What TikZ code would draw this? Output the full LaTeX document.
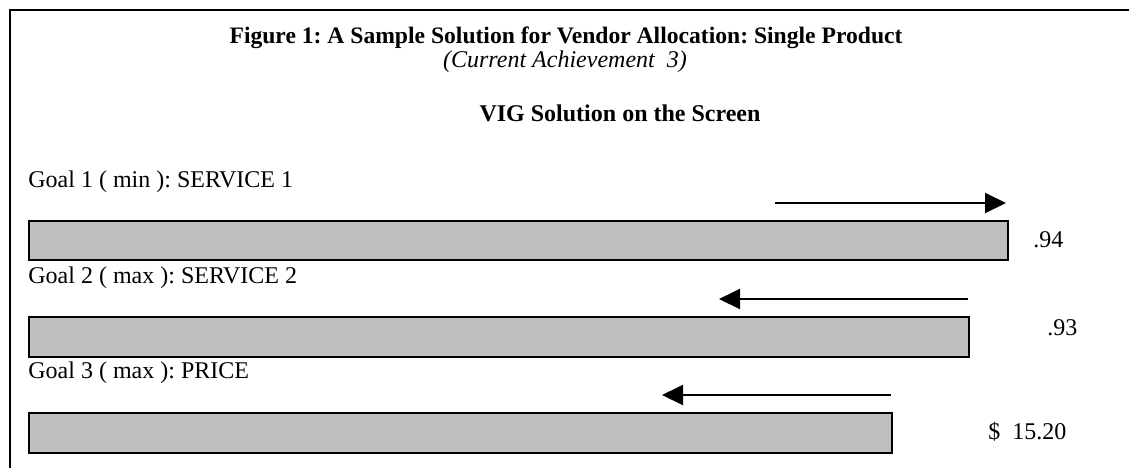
\documentclass[tikz,border=0pt]{standalone}
\usepackage{fontspec}
\setmainfont{Liberation Serif}
\usetikzlibrary{arrows.meta}
\frenchspacing

\tikzset{
    goalbar/.style={draw, line width=1pt, fill=black!25, inner sep=0pt, anchor=north west},
    goaltext/.style={anchor=base west, inner sep=0pt},
    valtext/.style={anchor=west, inner sep=0pt},
    moveto/.style={-{Triangle[length=10.5pt,width=10pt]}, line width=1pt},
}

\begin{document}
\begin{tikzpicture}[x=0.5pt,y=-0.5pt,font=\fontsize{12}{14.4}\selectfont]
    \useasboundingbox(0,0)rectangle(1129,468);
    % open frame
    \draw[line width=1.2pt](1129,10)--(10,10)--(10,468);

    \node[font=\fontsize{11.8}{14}\selectfont\bfseries](title)at(566,38){Figure 1: A Sample Solution for Vendor Allocation: Single Product};
    \node[font=\fontsize{12}{14}\selectfont\itshape](sub)at(565,62){(Current Achievement\ \ 3)};
    \node[font=\fontsize{12}{14}\selectfont\bfseries](screen)at(620,113){VIG Solution on the Screen};

    % goal 1
    \node[goaltext](g1)at(28,187){Goal 1 ( min ): SERVICE 1};
    \coordinate(a1s)at(775,203);
    \coordinate(a1e)at(1006,203);
    \draw[moveto](a1s)--(a1e);
    \node[goalbar,minimum width=489.5pt,minimum height=19.5pt](bar1)at(28,220){};
    \node[valtext](v1)at(1033,240){.94};

    % goal 2
    \node[goaltext](g2)at(28,283){Goal 2 ( max ): SERVICE 2};
    \coordinate(a2s)at(968,299);
    \coordinate(a2e)at(719,299);
    \draw[moveto](a2s)--(a2e);
    \node[goalbar,minimum width=470pt,minimum height=20pt](bar2)at(28,316){};
    \node[valtext](v2)at(1047,328){.93};

    % goal 3
    \node[goaltext](g3)at(28,378){Goal 3 ( max ): PRICE};
    \coordinate(a3s)at(891,395);
    \coordinate(a3e)at(662,395);
    \draw[moveto](a3s)--(a3e);
    \node[goalbar,minimum width=431.5pt,minimum height=20pt](bar3)at(28,412){};
    \node[valtext](v3)at(988,432){\$\ \ 15.20};
\end{tikzpicture}
\end{document}
